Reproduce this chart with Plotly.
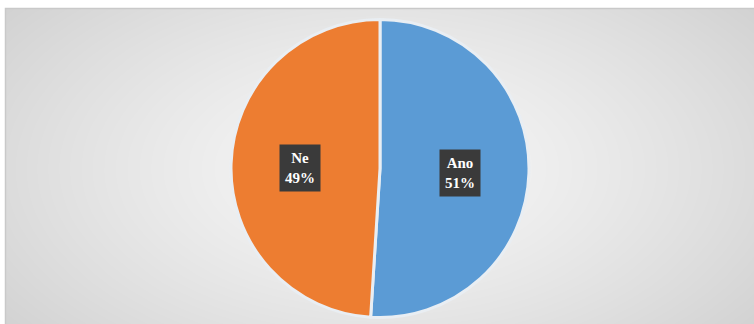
import math
import numpy as np
import plotly.graph_objects as go

# Survey answers
labels = ["Ano", "Ne"]
values = [51, 49]
colors = ["#5B9BD5", "#ED7D31"]

W, H = 754, 324
# chart area frame (pixels)
frame_left, frame_top = 6, 9
# pie placement (pixels)
cx, cy, r = 380, 168.5, 149

fig = go.Figure()

# soft radial gradient behind the pie
gx = np.linspace(frame_left, W, 80)
gy = np.linspace(frame_top, H, 40)
X, Y = np.meshgrid(gx, gy)
d = np.sqrt(((X - cx) / 380.0) ** 2 + ((Y - cy) / 210.0) ** 2)
shade = 247 - 28 * d ** 1.3
fig.add_trace(go.Heatmap(
    x=gx, y=gy, z=shade, zmin=0, zmax=255,
    colorscale=[[0, "rgb(0,0,0)"], [1, "rgb(255,255,255)"]],
    showscale=False, hoverinfo="skip", zsmooth="best",
))

fig.add_trace(go.Pie(
    labels=labels, values=values, sort=False, direction="clockwise",
    rotation=0,
    marker=dict(colors=colors, line=dict(color="#e9eef3", width=3)),
    textinfo="none", hoverinfo="label+percent", showlegend=False,
    domain=dict(x=[(cx - r) / W, (cx + r) / W],
                y=[(H - cy - r) / H, (H - cy + r) / H]),
))

# data labels: dark boxes placed at each slice's mid-angle
total = sum(values)
start = 0.0
for lab, v in zip(labels, values):
    frac = v / total
    mid = (start + frac / 2) * 2 * math.pi
    start += frac
    rr = 0.54 * r
    px = cx + rr * math.sin(mid)
    py = cy - rr * math.cos(mid) + 2
    fig.add_annotation(
        x=px / W, y=1 - py / H, xref="paper", yref="paper",
        text=f"<b>{lab}<br>{round(frac * 100)}%</b>", showarrow=False,
        font=dict(family="Liberation Serif", size=15, color="white"),
        bgcolor="#3a3a3a", borderpad=5, align="center",
    )

# thin frame around the chart area
fig.add_shape(type="rect", xref="paper", yref="paper",
              x0=(frame_left - 0.5) / W, x1=1.01, y0=-0.01, y1=1 - (frame_top - 0.5) / H,
              line=dict(color="#c9c9c9", width=1.5), layer="above")

fig.update_layout(
    width=W, height=H, margin=dict(l=0, r=0, t=0, b=0),
    paper_bgcolor="white", plot_bgcolor="white",
    xaxis=dict(domain=[frame_left / W, 1], range=[frame_left, W], visible=False, fixedrange=True),
    yaxis=dict(domain=[0, 1 - frame_top / H], range=[H, frame_top], visible=False, fixedrange=True),
)

fig.write_html("out.html")
